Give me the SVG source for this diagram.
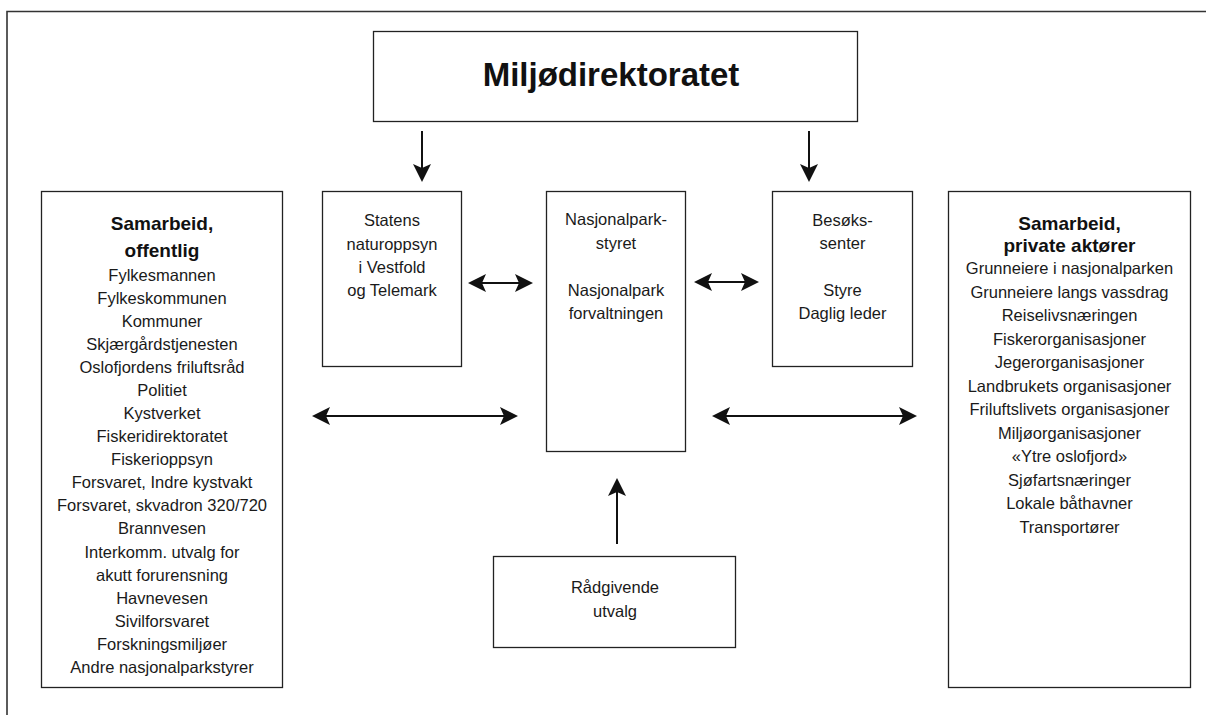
<svg xmlns="http://www.w3.org/2000/svg" width="1206" height="715" viewBox="0 0 1206 715">
<style>
.box{fill:#fff;stroke:#222;stroke-width:1.3}
.t{font-family:"Liberation Sans",Arial,sans-serif;font-size:16.5px;fill:#1a1a1a;text-anchor:middle}
.b{font-family:"Liberation Sans",Arial,sans-serif;font-weight:bold;font-size:19px;fill:#111;text-anchor:middle}
.title{font-family:"Liberation Sans",Arial,sans-serif;font-weight:bold;font-size:33px;fill:#111;text-anchor:middle}
.con{stroke:#111;stroke-width:2;fill:none}
</style>
<defs>
<marker id="ah" markerUnits="userSpaceOnUse" markerWidth="20" markerHeight="20" viewBox="0 0 20 20" refX="4" refY="10" orient="auto-start-reverse">
<path d="M0,1 L18,10 L0,19 L4,10 Z" fill="#111"/>
</marker>
</defs>
<rect width="1206" height="715" fill="#fff"/>
<path d="M7,715 V11.5 H1206" fill="none" stroke="#333" stroke-width="1.6"/>

<g id="miljodirektoratet">
<rect class="box" x="373.5" y="31.5" width="484" height="90"/>
<text class="title" x="611" y="86">Miljødirektoratet</text>
</g>

<g id="samarbeid-offentlig">
<rect class="box" x="41.5" y="191.5" width="241" height="496"/>
<text class="b" x="162" y="230">Samarbeid,</text>
<text class="b" x="162" y="257">offentlig</text>
<text class="t" x="162" y="281">Fylkesmannen</text>
<text class="t" x="162" y="304">Fylkeskommunen</text>
<text class="t" x="162" y="327.1">Kommuner</text>
<text class="t" x="162" y="350.1">Skjærgårdstjenesten</text>
<text class="t" x="162" y="373.2">Oslofjordens friluftsråd</text>
<text class="t" x="162" y="396.2">Politiet</text>
<text class="t" x="162" y="419.2">Kystverket</text>
<text class="t" x="162" y="442.3">Fiskeridirektoratet</text>
<text class="t" x="162" y="465.3">Fiskerioppsyn</text>
<text class="t" x="162" y="488.4">Forsvaret, Indre kystvakt</text>
<text class="t" x="162" y="511.4">Forsvaret, skvadron 320/720</text>
<text class="t" x="162" y="534.4">Brannvesen</text>
<text class="t" x="162" y="557.5">Interkomm. utvalg for</text>
<text class="t" x="162" y="580.5">akutt forurensning</text>
<text class="t" x="162" y="603.6">Havnevesen</text>
<text class="t" x="162" y="626.6">Sivilforsvaret</text>
<text class="t" x="162" y="649.6">Forskningsmiljøer</text>
<text class="t" x="162" y="672.7">Andre nasjonalparkstyrer</text>
</g>

<g id="statens-naturoppsyn">
<rect class="box" x="322.5" y="191.5" width="139" height="175"/>
<text class="t" x="392" y="226">Statens</text>
<text class="t" x="392" y="249.5">naturoppsyn</text>
<text class="t" x="392" y="273">i Vestfold</text>
<text class="t" x="392" y="296">og Telemark</text>
</g>

<g id="nasjonalparkstyret">
<rect class="box" x="546.5" y="191.5" width="139" height="260"/>
<text class="t" x="616" y="225">Nasjonalpark-</text>
<text class="t" x="616" y="249">styret</text>
<text class="t" x="616" y="296">Nasjonalpark</text>
<text class="t" x="616" y="319">forvaltningen</text>
</g>

<g id="besokssenter">
<rect class="box" x="772.5" y="191.5" width="140" height="175"/>
<text class="t" x="842.5" y="226">Besøks-</text>
<text class="t" x="842.5" y="249">senter</text>
<text class="t" x="842.5" y="296">Styre</text>
<text class="t" x="842.5" y="319">Daglig leder</text>
</g>

<g id="samarbeid-private">
<rect class="box" x="948.5" y="191.5" width="242" height="496"/>
<text class="b" x="1069.5" y="230">Samarbeid,</text>
<text class="b" x="1069.5" y="252">private aktører</text>
<text class="t" x="1069.5" y="274">Grunneiere i nasjonalparken</text>
<text class="t" x="1069.5" y="297.5">Grunneiere langs vassdrag</text>
<text class="t" x="1069.5" y="321">Reiselivsnæringen</text>
<text class="t" x="1069.5" y="344.5">Fiskerorganisasjoner</text>
<text class="t" x="1069.5" y="368">Jegerorganisasjoner</text>
<text class="t" x="1069.5" y="391.5">Landbrukets organisasjoner</text>
<text class="t" x="1069.5" y="415">Friluftslivets organisasjoner</text>
<text class="t" x="1069.5" y="438.5">Miljøorganisasjoner</text>
<text class="t" x="1069.5" y="462">«Ytre oslofjord»</text>
<text class="t" x="1069.5" y="485.5">Sjøfartsnæringer</text>
<text class="t" x="1069.5" y="509">Lokale båthavner</text>
<text class="t" x="1069.5" y="532.5">Transportører</text>
</g>

<g id="radgivende-utvalg">
<rect class="box" x="493.5" y="556.5" width="242" height="91"/>
<text class="t" x="615" y="593">Rådgivende</text>
<text class="t" x="615" y="616.5">utvalg</text>
</g>

<g id="connectors">
<line class="con" x1="422" y1="131" x2="422" y2="168" marker-end="url(#ah)"/>
<line class="con" x1="809" y1="131" x2="809" y2="168" marker-end="url(#ah)"/>
<line class="con" x1="482" y1="283" x2="519" y2="283" marker-start="url(#ah)" marker-end="url(#ah)"/>
<line class="con" x1="708" y1="282" x2="745" y2="282" marker-start="url(#ah)" marker-end="url(#ah)"/>
<line class="con" x1="326" y1="416" x2="504" y2="416" marker-start="url(#ah)" marker-end="url(#ah)"/>
<line class="con" x1="726" y1="416" x2="903" y2="416" marker-start="url(#ah)" marker-end="url(#ah)"/>
<line class="con" x1="617" y1="544" x2="617" y2="492" marker-end="url(#ah)"/>
</g>
</svg>
